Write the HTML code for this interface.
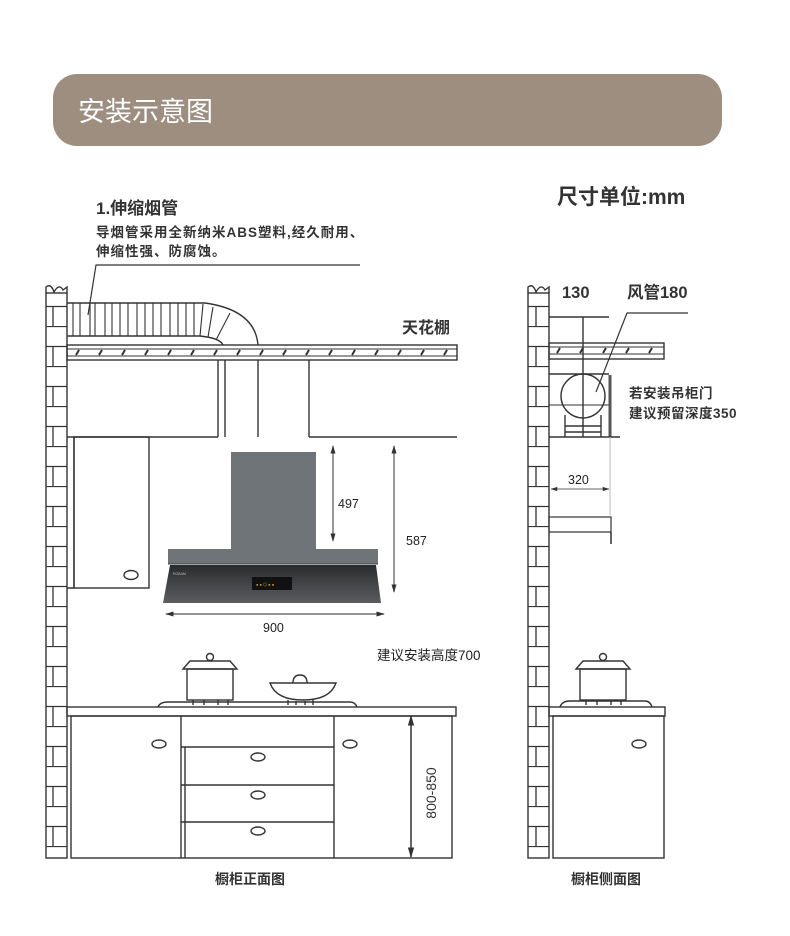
<!DOCTYPE html>
<html><head><meta charset="utf-8"><style>
html,body{margin:0;padding:0;background:#fff;}
svg{display:block;}
text{font-family:"Liberation Sans","Noto Sans CJK SC",sans-serif;}
</style></head><body>
<svg width="790" height="936" viewBox="0 0 790 936" xmlns="http://www.w3.org/2000/svg">
<defs>
<pattern id="brick" x="0" y="286" width="21" height="40" patternUnits="userSpaceOnUse">
<rect width="21" height="40" fill="#fff"/>
<line x1="0" y1="0.5" x2="21" y2="0.5" stroke="#333" stroke-width="1.3"/>
<line x1="0" y1="20.5" x2="21" y2="20.5" stroke="#333" stroke-width="1.3"/>
<line x1="11" y1="20" x2="11" y2="40" stroke="#333" stroke-width="1.3"/>
</pattern>
<linearGradient id="glass" x1="0" y1="0" x2="0" y2="1">
<stop offset="0" stop-color="#2a2b2d"/><stop offset="1" stop-color="#5b5d60"/>
</linearGradient>
<marker id="ar" viewBox="0 0 10 10" refX="9" refY="5" markerWidth="7" markerHeight="7" orient="auto-start-reverse"><path d="M0,2 L10,5 L0,8 z" fill="#333"/></marker>
</defs>
<rect x="53" y="74" width="669" height="72" rx="24" fill="#9d8e80"/>
<text x="78" y="121" font-size="27" fill="#fff">安装示意图</text>
<text x="557" y="204" font-size="21" font-weight="bold" fill="#333">尺寸单位:mm</text>
<text x="96" y="214" font-size="17" font-weight="bold" fill="#333">1.伸缩烟管</text>
<text x="96" y="237" font-size="13.5" letter-spacing="1" font-weight="bold" fill="#333">导烟管采用全新纳米ABS塑料,经久耐用、</text>
<text x="96" y="256" font-size="13.5" letter-spacing="1" font-weight="bold" fill="#333">伸缩性强、防腐蚀。</text>
<polyline points="360,265 96,265 88,315" fill="none" stroke="#333" stroke-width="1.2"/>
<g stroke="#333" stroke-width="1.4" fill="none">
<rect x="46" y="293" width="21" height="565" fill="url(#brick)"/>
<path d="M46,293 L46,287 Q51,283 54,292 Q59,283 63,290 L67,287 L67,293"/>
<path d="M67,303 L205,303 Q255,310 258,345"/>
<path d="M67,336 L200,336 Q220,338 223,345"/>
<g stroke-width="1.1">
<line x1="73" y1="303" x2="73" y2="336"/><line x1="80" y1="303" x2="80" y2="336"/><line x1="90" y1="303" x2="90" y2="336"/><line x1="95" y1="303" x2="95" y2="336"/><line x1="105" y1="303" x2="105" y2="336"/><line x1="112" y1="303" x2="112" y2="336"/><line x1="120" y1="303" x2="120" y2="336"/><line x1="128" y1="303" x2="128" y2="336"/><line x1="137" y1="303" x2="137" y2="336"/><line x1="145" y1="303" x2="145" y2="336"/><line x1="153" y1="303" x2="153" y2="336"/><line x1="161" y1="303" x2="161" y2="336"/><line x1="170" y1="303" x2="170" y2="336"/><line x1="178" y1="303" x2="178" y2="336"/><line x1="186" y1="303" x2="186" y2="336"/><line x1="194" y1="303" x2="194" y2="336"/><line x1="203" y1="304" x2="200" y2="336"/><line x1="213" y1="307" x2="208" y2="337"/><line x1="230" y1="313" x2="216" y2="340"/>
</g>
<rect x="67" y="345" width="390" height="15"/>
<line x1="67" y1="349" x2="457" y2="349" stroke-width="1"/>
<line x1="67" y1="356" x2="457" y2="356" stroke-width="1"/>
<path d="M76,355 l3,-5 M99,355 l3,-5 M122,355 l3,-5 M145,355 l3,-5 M168,355 l3,-5 M191,355 l3,-5 M214,355 l3,-5 M237,355 l3,-5 M260,355 l3,-5 M283,355 l3,-5 M306,355 l3,-5 M329,355 l3,-5 M352,355 l3,-5 M375,355 l3,-5 M398,355 l3,-5 M421,355 l3,-5 M444,355 l3,-5" stroke-width="2"/>
<line x1="218" y1="360" x2="218" y2="437"/><line x1="225" y1="360" x2="225" y2="437"/><line x1="258" y1="360" x2="258" y2="437"/><line x1="309" y1="360" x2="309" y2="437"/>
<line x1="67" y1="437" x2="218" y2="437"/><line x1="309" y1="437" x2="457" y2="437"/>
<polyline points="67,588 74,588 74,437"/>
<rect x="74" y="437" width="75" height="151"/>
<ellipse cx="131" cy="575" rx="7" ry="4.5"/>
<rect x="67" y="707" width="389" height="9"/>
<rect x="71" y="716" width="381" height="142"/>
<line x1="181" y1="716" x2="181" y2="858"/><line x1="334" y1="716" x2="334" y2="858"/>
<line x1="185" y1="747" x2="185" y2="858"/>
<line x1="181" y1="747" x2="334" y2="747"/><line x1="181" y1="785" x2="334" y2="785"/><line x1="181" y1="822" x2="334" y2="822"/>
<ellipse cx="159" cy="744" rx="7" ry="4"/><ellipse cx="258" cy="757" rx="7" ry="4"/><ellipse cx="258" cy="795" rx="7" ry="4"/><ellipse cx="258" cy="831" rx="7" ry="4"/><ellipse cx="350" cy="744" rx="7" ry="4"/>
<path d="M158,707 Q160,702 168,702 L350,702 Q355,702 357,707"/>
<rect x="187" y="669" width="46" height="31"/>
<path d="M183,669 L190,661 L230,661 L237,669 Z"/>
<circle cx="210" cy="657" r="3.5"/>
<path d="M193,700 v5 M204,700 v5 M218,700 v5 M228,700 v5"/>
<path d="M270,683 L336,683 Q330,700 303,700 Q276,700 270,683 Z"/>
<path d="M293,683 Q293,675 300,675 Q307,675 307,683"/>
<path d="M288,700 v5 M313,700 v5 M296,701 v4 M305,701 v4"/>
</g>
<rect x="231" y="452" width="85" height="98" fill="#6f7478"/>
<rect x="168" y="549" width="210" height="15" fill="#6f7478"/>
<line x1="168" y1="564" x2="378" y2="564" stroke="#444" stroke-width="1"/>
<path d="M170,565 L376,565 L381,603 L163,603 Z" fill="url(#glass)"/>
<rect x="252" y="577" width="40" height="13" fill="#111"/>
<text x="256" y="586" font-size="4" fill="#d9a84a">● ● ◎ ● ●</text>
<text x="173" y="575" font-size="3.5" fill="#bbb">ROBAM</text>
<g stroke="#555" stroke-width="1.2">
<line x1="333" y1="446" x2="333" y2="541" marker-start="url(#ar)" marker-end="url(#ar)"/>
<line x1="394" y1="446" x2="394" y2="592" marker-start="url(#ar)" marker-end="url(#ar)"/>
<line x1="166" y1="614" x2="384" y2="614" marker-start="url(#ar)" marker-end="url(#ar)"/>
<line x1="411" y1="716" x2="411" y2="857" marker-start="url(#ar)" marker-end="url(#ar)" stroke="#333" stroke-width="1.5"/>
</g>
<text x="338" y="508" font-size="12.5" fill="#222">497</text>
<text x="406" y="545" font-size="12.5" fill="#222">587</text>
<text x="263" y="632" font-size="12.5" fill="#222">900</text>
<text x="377" y="660" font-size="13.5" fill="#222">建议安装高度700</text>
<text x="402" y="333" font-size="16" font-weight="bold" fill="#333">天花棚</text>
<text transform="translate(436,793) rotate(-90)" text-anchor="middle" font-size="14" fill="#333">800-850</text>
<text x="250" y="884" text-anchor="middle" font-size="14" font-weight="bold" fill="#333">橱柜正面图</text>
<g stroke="#333" stroke-width="1.4" fill="none">
<rect x="528" y="293" width="21" height="565" fill="url(#brick)"/>
<path d="M528,293 L528,287 Q533,283 536,292 Q541,283 545,290 L549,287 L549,293"/>
<line x1="549" y1="317" x2="609" y2="317"/>
<line x1="583" y1="317" x2="583" y2="437"/>
<rect x="549" y="343" width="115" height="16"/>
<line x1="549" y1="347" x2="664" y2="347" stroke-width="1"/>
<line x1="549" y1="354" x2="664" y2="354" stroke-width="1"/>
<path d="M557,353 l3,-5 M580,353 l3,-5 M603,353 l3,-5 M626,353 l3,-5 M649,353 l3,-5" stroke-width="2"/>
<line x1="549" y1="374" x2="609" y2="374"/>
<line x1="549" y1="405" x2="609" y2="405" stroke-width="1"/>
<circle cx="583" cy="396" r="22" fill="none"/>
<path d="M565,415 V437 M601,415 V437 M565,426 H601 M565,432 H601"/>
<line x1="610" y1="375" x2="610" y2="437" stroke-width="3" stroke="#555"/>
<line x1="549" y1="437" x2="620" y2="437"/>
<polyline points="688,313 627,313 596,392" stroke-width="1.2"/>
<rect x="549" y="517" width="62" height="15" stroke-width="1.2"/>
<line x1="611" y1="532" x2="611" y2="544" stroke-width="1.5"/>
<rect x="549" y="707" width="116" height="9"/>
<rect x="553" y="716" width="111" height="142"/>
<ellipse cx="639" cy="744" rx="7" ry="4"/>
<path d="M560,707 Q562,701 570,701 L645,701 Q650,701 652,707"/>
<rect x="580" y="669" width="46" height="31"/>
<path d="M576,669 L583,661 L623,661 L630,669 Z"/>
<circle cx="603" cy="657" r="3.5"/>
<path d="M586,700 v5 M597,700 v5 M611,700 v5 M621,700 v5"/>
</g>
<line x1="610" y1="437" x2="610" y2="515" stroke="#bbb" stroke-width="1"/>
<line x1="551" y1="489" x2="609" y2="489" stroke="#666" stroke-width="1" marker-start="url(#ar)" marker-end="url(#ar)"/>
<text x="568" y="484" font-size="12.5" fill="#222">320</text>
<text x="562" y="298" font-size="16.5" font-weight="bold" fill="#333">130</text>
<text x="627" y="298" font-size="16.5" font-weight="bold" fill="#333">风管180</text>
<text x="629" y="398" font-size="13.5" letter-spacing="0.5" font-weight="bold" fill="#333">若安装吊柜门</text>
<text x="629" y="418" font-size="13.5" letter-spacing="0.5" font-weight="bold" fill="#333">建议预留深度350</text>
<text x="606" y="884" text-anchor="middle" font-size="14" font-weight="bold" fill="#333">橱柜侧面图</text>
</svg>
</body></html>
